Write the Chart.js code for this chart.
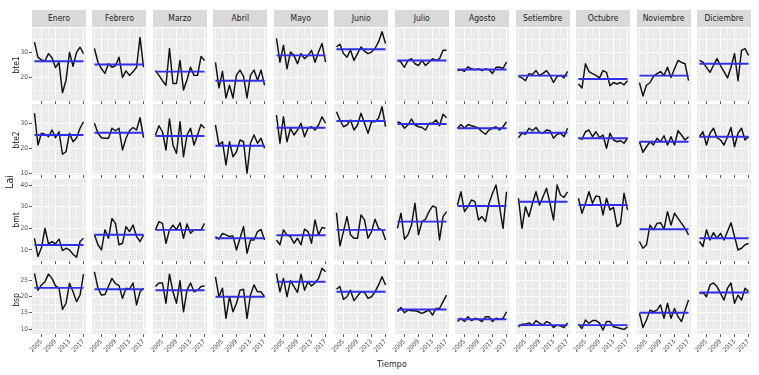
<!DOCTYPE html>
<html>
<head>
<meta charset="utf-8">
<script src="https://cdn.jsdelivr.net/npm/chart.js@4.4.1/dist/chart.umd.min.js"></script>
<style>
  body { margin: 0; background: #fff; width: 759px; height: 375px; overflow: hidden; position: relative;
         font-family: "Liberation Sans Narrow", "DejaVu Sans Condensed", "Liberation Sans", sans-serif; }
  canvas { position: absolute; }
  .strip { position: absolute; top: 10px; height: 17px; background: #d9d9d9; color: #1a1a1a;
           font-size: 8.5px; line-height: 17px; text-align: center; white-space: nowrap; }
  .vlab { position: absolute; white-space: nowrap; color: #1a1a1a;
          transform: translate(-50%, -50%) rotate(-90deg); }
  .title { position: absolute; white-space: nowrap; color: #1a1a1a; transform: translate(-50%, -50%); }
</style>
</head>
<body>
<script>
// data
const years = [2003, 2004, 2005, 2006, 2007, 2008, 2009, 2010, 2011, 2012, 2013, 2014, 2015, 2016, 2017];
const months = ['Enero', 'Febrero', 'Marzo', 'Abril', 'Mayo', 'Junio', 'Julio', 'Agosto',
                'Setiembre', 'Octubre', 'Noviembre', 'Diciembre'];
const variables = ['bte1', 'bte2', 'bmt', 'bsp'];

const bte1 = [
  [34, 28, 27, 26.6, 29.5, 27.9, 24, 26, 14, 19, 30, 24.5, 30, 32, 29.5],
  [31.5, 26.1, 23.5, 21.7, 25.5, 24.1, 24.7, 28.1, 20.1, 22.7, 20.9, 22.3, 24.1, 35.9, 24.1],
  [22.8, 20.9, 18.8, 17, 31.5, 17.7, 17.7, 26.8, 15.1, 19.2, 24.1, 20.9, 20.9, 28.4, 26.8],
  [26, 16, 22.5, 12, 17, 12, 21, 23, 20.5, 12, 21, 23, 19, 23, 17],
  [35.5, 26.1, 32.8, 23.5, 30.1, 28.8, 25.5, 29.5, 27.5, 28.8, 30.8, 26.1, 30.1, 33.5, 26.1],
  [32.1, 33.2, 29.5, 28.1, 30.9, 26.8, 29.5, 32.1, 30.5, 29.5, 30.1, 31.5, 34.1, 38.1, 33.5],
  [26.8, 26.1, 24.1, 26.8, 27.5, 25.5, 24.8, 26.8, 24.8, 26.1, 27.5, 26.8, 27.5, 30.8, 30.8],
  [22.8, 23.1, 22.5, 24.3, 23.5, 23.1, 23.5, 22.8, 23.5, 23.1, 21.7, 24.1, 24.1, 23.7, 26.1],
  [20.4, 19.9, 18.8, 21.6, 21.3, 22.8, 20.9, 21.7, 22.8, 20.9, 18.1, 20.4, 20.9, 19.9, 22.5],
  [17.5, 15.9, 25.5, 22.4, 21.6, 20.9, 19.9, 22.8, 22.1, 16.8, 18.1, 17.5, 18.1, 17.2, 18.8],
  [18, 12.8, 17, 18, 20.5, 21.6, 22.4, 20.9, 24.1, 20.1, 23.5, 26.8, 26, 25.5, 18.8],
  [26.8, 26.1, 24.1, 22.1, 24.8, 27.5, 24.8, 22.4, 19.9, 24.1, 29.5, 18.8, 30.8, 31.5, 28.8]
];
const bte2 = [
  [33.9, 21.2, 25.9, 25.5, 24.5, 27.2, 24.1, 26.5, 17.5, 18.5, 25.9, 22.5, 24, 27.9, 30.5],
  [29.9, 25.9, 24.1, 23.9, 23.9, 27.9, 26.9, 27.9, 19.2, 23.9, 26.9, 28.2, 27.2, 32.1, 24.1],
  [25.2, 28.9, 26.5, 19.2, 31.6, 21.2, 17.8, 30.5, 16.5, 25.2, 27.9, 21.2, 25.2, 29.4, 27.9],
  [29.2, 21.2, 22.5, 13.2, 22.5, 16.5, 18.5, 23.2, 22.5, 9.9, 22, 25.2, 21.9, 23.9, 19.9],
  [33.2, 21.9, 32.5, 22.5, 27.9, 25.2, 27.2, 29.9, 24.5, 27.9, 28.5, 27.2, 29.2, 32.5, 29.9],
  [34.5, 31.2, 28.5, 29.2, 31.2, 27.2, 29.2, 33.9, 29.9, 25.9, 30.5, 30.5, 31.9, 36.5, 28.5],
  [30.5, 29.9, 27.9, 29.2, 31.6, 29.2, 28.5, 28.2, 27.2, 29.9, 29.9, 31.2, 28.9, 33.5, 32.1],
  [27.9, 29.4, 27.9, 29.4, 28.9, 28.5, 27.9, 26.5, 25.5, 27.2, 27.9, 28.5, 27.2, 28.5, 30.5],
  [24.1, 25.9, 25.5, 27.9, 26.9, 28.2, 26.3, 25.9, 27.2, 26.9, 23.9, 25.5, 25.9, 24.5, 27.9],
  [24.1, 23.5, 26.5, 27.2, 24.5, 26.5, 24.1, 25.2, 19.9, 25.9, 23.2, 22.5, 22.9, 21.9, 24],
  [22.5, 18.3, 20.5, 22.5, 21.2, 23.9, 22.5, 24.9, 21.2, 24.5, 21.2, 26.9, 25.2, 23.2, 24.5],
  [24.5, 26.5, 21.2, 25.9, 27.9, 24.1, 23.2, 21.2, 24.5, 28.2, 20.5, 25.9, 27.9, 23.2, 24.5]
];
const bmt = [
  [15.4, 7, 11, 20, 12.8, 13.9, 12.8, 15, 9.7, 10.8, 10, 8, 6.6, 13.9, 15.4],
  [17, 12.4, 10, 19.3, 15.4, 24.6, 22.3, 12.4, 13.1, 20.8, 18.5, 21.5, 16.3, 13.9, 17],
  [19.3, 23.1, 22.3, 13.1, 19.3, 21.5, 19.3, 22.6, 15.4, 22, 17.7, 19.3, 19.3, 19.3, 22.3],
  [16.2, 15, 17.7, 17, 16.2, 16.5, 10, 15.4, 20.8, 8.5, 14.6, 14.6, 18.5, 19.5, 14.6],
  [14.6, 12.4, 19.3, 17, 16.2, 13.1, 15.4, 12.4, 19.6, 18.5, 13.1, 23.9, 17, 20.4, 20],
  [27.2, 11.9, 18.5, 25.4, 17, 15.4, 15.4, 26.2, 23.9, 15.4, 18.5, 24.2, 20, 19.3, 14.6],
  [20, 27, 15, 17, 21.5, 31.6, 17, 23.1, 24.2, 27.7, 30.3, 29.7, 14.6, 25.4, 27.7],
  [30.8, 36.9, 27.7, 30, 33.1, 32.3, 23.9, 25.4, 23.1, 31.6, 36.2, 40, 30, 20, 36.9],
  [33.9, 20, 30, 25.4, 31.6, 36.9, 30.8, 34.6, 38.5, 31.6, 23.9, 40, 35.4, 34.3, 36.9],
  [33.9, 27, 31.6, 36.9, 31.6, 35, 34.6, 26.2, 33.9, 28.5, 29.7, 20.8, 22.3, 36.2, 28.5],
  [13.9, 10.8, 12.4, 21.5, 19.3, 22.3, 22.6, 19.6, 27.7, 21.5, 27, 24.6, 22.3, 20, 17],
  [13.9, 11.6, 19.3, 14.6, 18, 15.4, 17.7, 14.6, 18.5, 22.6, 16.2, 10, 10.8, 12.4, 13]
];
const bsp = [
  [27, 21.9, 23.5, 24.5, 26.8, 25.5, 23.2, 22.5, 16, 17.9, 24, 21.4, 18.4, 20.4, 26.8],
  [27.5, 22.5, 20.4, 20.6, 23.1, 25.5, 23.9, 23.3, 19.4, 22.5, 22.2, 24.1, 17.4, 21.4, 22.5],
  [23, 24.1, 24.1, 17.9, 26.8, 21.4, 17.9, 24.8, 15.3, 21.9, 24.1, 21.4, 21.9, 23, 23.2],
  [26, 19.9, 22.5, 13.3, 19.9, 15.3, 17.9, 21.9, 22.2, 13.3, 20.5, 23.5, 21.4, 21.4, 19.9],
  [27, 21.4, 25.5, 19.9, 24.8, 23, 21.2, 26.8, 21.9, 24.5, 23.2, 24.1, 25.5, 28.6, 27.5],
  [22.2, 23, 19.1, 19.9, 21.9, 18.7, 20.1, 21.4, 21.2, 19.4, 19.9, 21.4, 23.5, 26, 23.5],
  [15.3, 16.6, 15, 15.8, 15.6, 15.6, 15.3, 14.8, 15.3, 15.8, 14.3, 16.3, 16.3, 18.4, 20.4],
  [12.3, 13.3, 12.3, 13.8, 12.6, 13.3, 13, 12.3, 13.8, 13.8, 12.3, 13.3, 13, 13.3, 15.3],
  [10.7, 11.5, 11.5, 11.9, 11.2, 12.6, 11.8, 11.2, 12.3, 11.8, 10.5, 11.2, 10.9, 10.5, 11.9],
  [11.5, 10.2, 12.8, 11.8, 12.6, 12.6, 11.9, 9.7, 12.3, 12.3, 10.7, 10.5, 10.2, 9.9, 10.7],
  [14.8, 10.5, 12.8, 15.8, 15.3, 15.8, 17.4, 13.3, 17.9, 13.3, 16.3, 13.8, 12.3, 15.8, 18.9],
  [20.9, 21.2, 19.9, 23.5, 24.1, 23, 20.9, 18.9, 22.5, 24.1, 17.9, 20.4, 18.9, 22.5, 21.5]
];

// blue mean lines
const meanBte1 = [26.5, 25.2, 22.4, 18.8, 28.8, 31.2, 26.8, 23.2, 20.8, 19.5, 20.8, 25.5];
const meanBte2 = [25.2, 26.1, 24.8, 20.9, 28.1, 30.8, 29.6, 27.9, 26.1, 23.9, 22.5, 24.5];
const meanBmt  = [12.3, 17, 19.3, 15.4, 16.8, 19.3, 23.1, 30.3, 32.3, 30.8, 19.6, 15.4];
const meanBsp  = [22.6, 22.2, 21.9, 19.9, 24.5, 21.4, 16, 13, 11.2, 11.2, 15, 21.2];

// ticks
const xMajor = [2005, 2009, 2013, 2017];
const xMinor = [2003, 2007, 2011, 2015];
const yMajor = [[20, 30], [10, 20, 30], [10, 20, 30, 40], [10, 15, 20, 25]];
const yMinor = [[15, 25, 35], [15, 25, 35], [5, 15, 25, 35], [12.5, 17.5, 22.5, 27.5]];

const series = [bte1, bte2, bmt, bsp];
const means = [meanBte1, meanBte2, meanBmt, meanBsp];

// layout
const yRange = [[10.8, 39.6], [9.2, 37.6], [4.9, 42.8], [8.5, 29.6]];
const rowTop = [28, 104, 179, 265];
const rowH = [73, 71, 82, 69];
const colLeft = i => 32 + 60.45 * i;
const panelW = 54;

Chart.defaults.font.family = '"Liberation Sans Narrow", "DejaVu Sans Condensed", "Liberation Sans", sans-serif';

const panelBg = {
  id: 'panelBg',
  beforeDraw(chart) {
    const a = chart.chartArea;
    chart.ctx.save();
    chart.ctx.fillStyle = '#ebebeb';
    chart.ctx.fillRect(a.left, a.top, a.right - a.left, a.bottom - a.top);
    chart.ctx.restore();
  }
};

function axis(major, minor, range, showLabels, size, horizontal) {
  return {
    type: 'linear',
    min: range[0],
    max: range[1],
    afterBuildTicks: s => {
      s.ticks = major.concat(minor).sort((a, b) => a - b).map(v => ({ value: v }));
    },
    afterFit: s => {
      if (horizontal) s.height = size; else s.width = size;
      s.paddingLeft = 0; s.paddingRight = 0; s.paddingTop = 0; s.paddingBottom = 0;
    },
    border: { display: false },
    grid: {
      color: '#ffffff',
      lineWidth: c => major.includes(c.tick.value) ? 1 : 0.5,
      drawTicks: horizontal || showLabels,
      tickLength: 3,
      tickWidth: 0.8,
      tickColor: c => major.includes(c.tick.value) ? '#333333' : 'rgba(0,0,0,0)'
    },
    ticks: {
      display: showLabels,
      autoSkip: false,
      padding: 1,
      color: '#4d4d4d',
      font: { size: 6.5 },
      minRotation: horizontal ? 45 : 0,
      maxRotation: horizontal ? 45 : 0,
      callback: v => major.includes(v) ? String(v) : ''
    }
  };
}

function addPanel(r, c) {
  const ml = c === 0 ? 14 : 4;
  const mb = r === 3 ? 30 : 4;
  const cv = document.createElement('canvas');
  cv.width = panelW + ml;
  cv.height = rowH[r] + mb;
  cv.style.left = (colLeft(c) - ml) + 'px';
  cv.style.top = rowTop[r] + 'px';
  document.body.appendChild(cv);

  const vals = series[r][c];
  new Chart(cv, {
    type: 'line',
    data: {
      datasets: [
        {
          data: [{ x: years[0], y: means[r][c] }, { x: years[years.length - 1], y: means[r][c] }],
          borderColor: '#2f2fe6',
          borderWidth: 1.9,
          pointRadius: 0
        },
        {
          data: years.map((y, i) => ({ x: y, y: vals[i] })),
          borderColor: '#111111',
          borderWidth: 1.45,
          borderJoinStyle: 'round',
          pointRadius: 0,
          tension: 0
        }
      ]
    },
    options: {
      responsive: false,
      animation: false,
      events: [],
      layout: { padding: 0 },
      plugins: { legend: { display: false }, tooltip: { enabled: false } },
      scales: {
        x: axis(xMajor, xMinor, [2002.3, 2017.7], r === 3, mb, true),
        y: axis(yMajor[r], yMinor[r], yRange[r], c === 0, ml, false)
      }
    },
    plugins: [panelBg]
  });
}

for (let r = 0; r < 4; r++) {
  for (let c = 0; c < 12; c++) addPanel(r, c);
}

// strips and labels
months.forEach((m, c) => {
  const d = document.createElement('div');
  d.className = 'strip';
  d.style.left = colLeft(c) + 'px';
  d.style.width = panelW + 'px';
  d.textContent = m;
  document.body.appendChild(d);
});

variables.forEach((v, r) => {
  const d = document.createElement('div');
  d.className = 'vlab';
  d.style.left = '16px';
  d.style.top = (rowTop[r] + rowH[r] / 2) + 'px';
  d.style.fontSize = '8.5px';
  d.textContent = v;
  document.body.appendChild(d);
});

const lai = document.createElement('div');
lai.className = 'vlab';
lai.style.left = '9px';
lai.style.top = '182px';
lai.style.fontSize = '10.5px';
lai.textContent = 'Lai';
document.body.appendChild(lai);

const tiempo = document.createElement('div');
tiempo.className = 'title';
tiempo.style.left = '392px';
tiempo.style.top = '364px';
tiempo.style.fontSize = '9px';
tiempo.textContent = 'Tiempo';
document.body.appendChild(tiempo);
</script>
</body>
</html>
